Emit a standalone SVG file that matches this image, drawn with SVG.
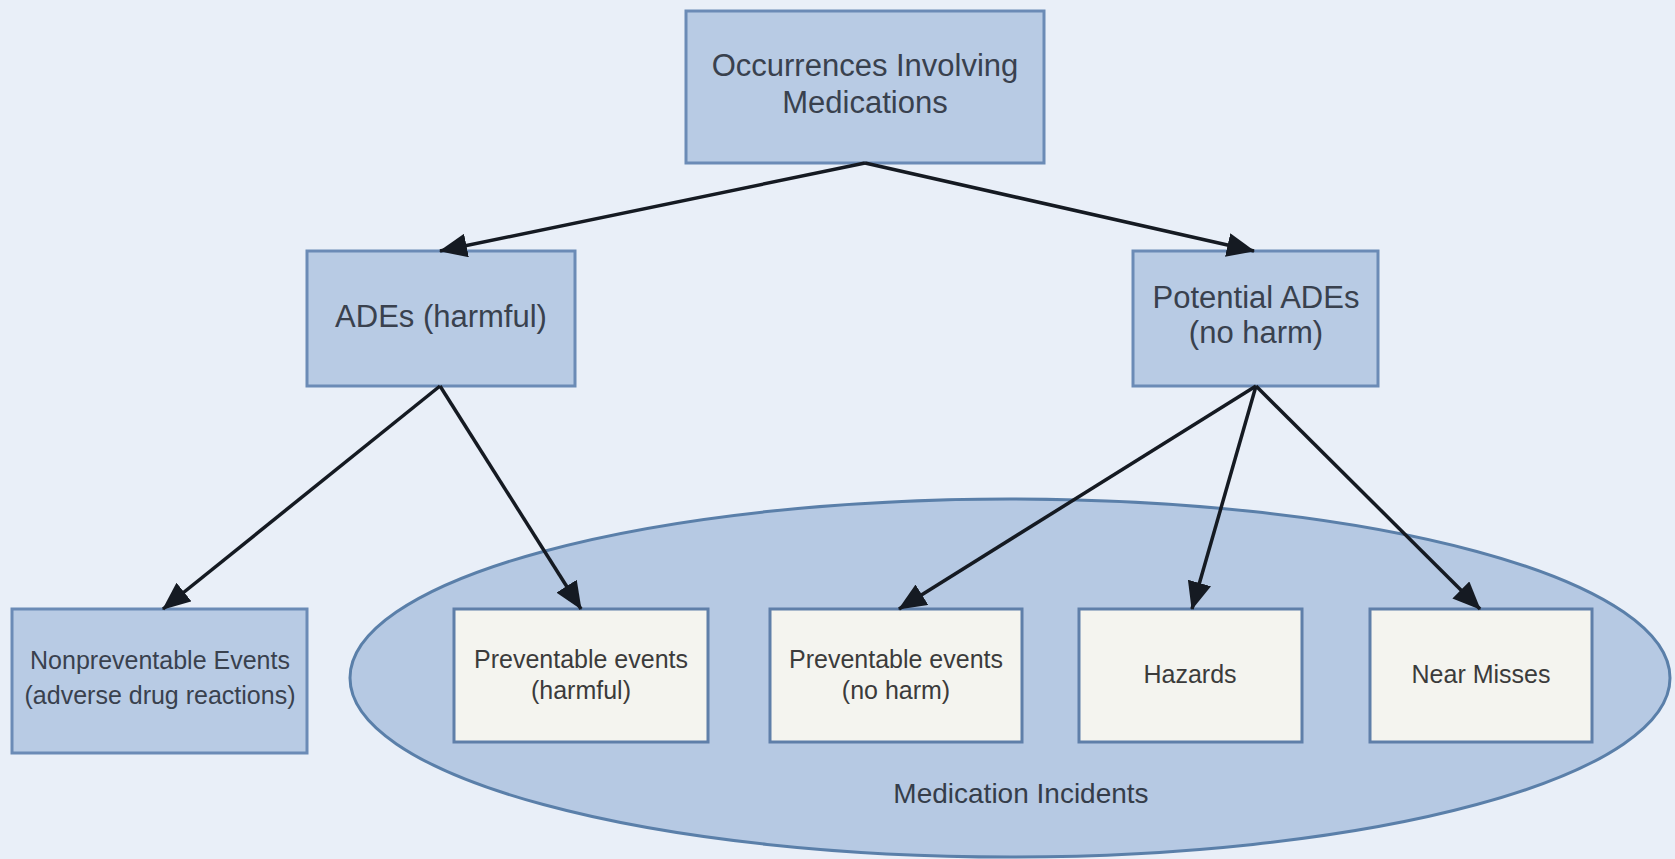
<svg xmlns="http://www.w3.org/2000/svg" width="1675" height="859" viewBox="0 0 1675 859">
  <defs>
    <marker id="arrow" markerUnits="userSpaceOnUse" markerWidth="28" markerHeight="24" refX="27" refY="12" orient="auto">
      <path d="M0,0 L28,12 L0,24 z" fill="#151a22"/>
    </marker>
    <style>
      .blue { fill: #b8cbe4; stroke: #6b8bb6; stroke-width: 3; }
      .light { fill: #f4f4ef; stroke: #5f7fa9; stroke-width: 3; }
      .t { font-family: "Liberation Sans", Arial, sans-serif; text-anchor: middle; }
      .tb { fill: #39414e; font-size: 31px; }
      .tl { fill: #3b3b3b; font-size: 25px; }
      .conn { stroke: #151a22; stroke-width: 3.5; fill: none; marker-end: url(#arrow); }
    </style>
  </defs>
  <rect x="0" y="0" width="1675" height="859" fill="#e9eff8"/>

  <g id="medication-incidents">
    <ellipse cx="1010" cy="678" rx="660" ry="179" fill="#b6c9e3" stroke="#5a7fa9" stroke-width="3"/>
    <text class="t" x="1021" y="803" fill="#353d4a" font-size="28">Medication Incidents</text>
  </g>

  <g id="occurrences">
    <rect class="blue" x="686" y="11" width="358" height="152"/>
    <text class="t tb" x="865" y="76">Occurrences Involving</text>
    <text class="t tb" x="865" y="113">Medications</text>
  </g>

  <g id="ades">
    <rect class="blue" x="307" y="251" width="268" height="135"/>
    <text class="t tb" x="441" y="327">ADEs (harmful)</text>
  </g>

  <g id="potential-ades">
    <rect class="blue" x="1133" y="251" width="245" height="135"/>
    <text class="t tb" x="1256" y="308">Potential ADEs</text>
    <text class="t tb" x="1256" y="343">(no harm)</text>
  </g>

  <g id="nonpreventable">
    <rect class="blue" x="12" y="609" width="295" height="144"/>
    <text class="t" x="160" y="669" fill="#39414e" font-size="25">Nonpreventable Events</text>
    <text class="t" x="160" y="704" fill="#39414e" font-size="25">(adverse drug reactions)</text>
  </g>

  <g id="preventable-harmful">
    <rect class="light" x="454" y="609" width="254" height="133"/>
    <text class="t tl" x="581" y="668">Preventable events</text>
    <text class="t tl" x="581" y="699">(harmful)</text>
  </g>

  <g id="preventable-no-harm">
    <rect class="light" x="770" y="609" width="252" height="133"/>
    <text class="t tl" x="896" y="668">Preventable events</text>
    <text class="t tl" x="896" y="699">(no harm)</text>
  </g>

  <g id="hazards">
    <rect class="light" x="1079" y="609" width="223" height="133"/>
    <text class="t tl" x="1190" y="683">Hazards</text>
  </g>

  <g id="near-misses">
    <rect class="light" x="1370" y="609" width="222" height="133"/>
    <text class="t tl" x="1481" y="683">Near Misses</text>
  </g>

  <g id="connectors">
    <line class="conn" x1="865" y1="163" x2="440" y2="251"/>
    <line class="conn" x1="865" y1="163" x2="1254" y2="251"/>
    <line class="conn" x1="440" y1="386" x2="163" y2="609"/>
    <line class="conn" x1="440" y1="386" x2="581" y2="609"/>
    <line class="conn" x1="1256" y1="386" x2="899" y2="609"/>
    <line class="conn" x1="1256" y1="386" x2="1192" y2="609"/>
    <line class="conn" x1="1256" y1="386" x2="1480" y2="609"/>
  </g>
</svg>
